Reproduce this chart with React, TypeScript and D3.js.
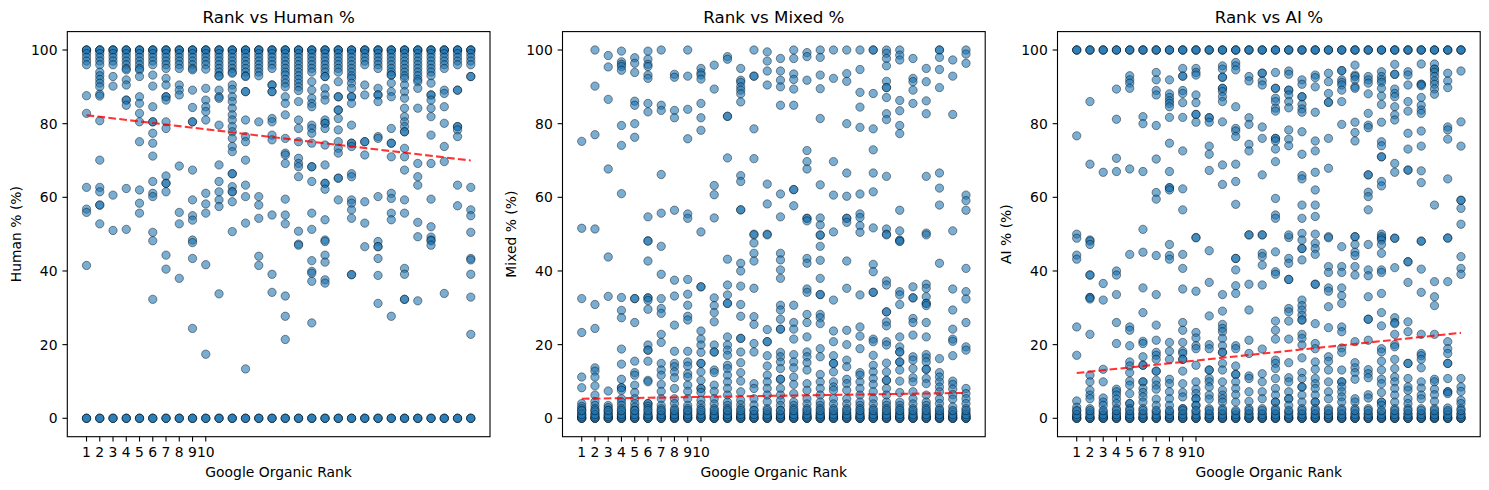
import * as d3 from "d3";

const ranks = [
  1, 2, 3, 4, 5, 6, 7, 8, 9, 10, 11, 12, 13, 14, 15, 16, 17, 18, 19, 20, 21,
  22, 23, 24, 25, 26, 27, 28, 29, 30,
];
const tickRanks = [1, 2, 3, 4, 5, 6, 7, 8, 9, 10];
const yTicks = [0, 20, 40, 60, 80, 100];

// values per rank (one inner array per rank)
const humanPct = [
  [100, 100, 100, 99, 98, 97, 96, 87.6, 82.8, 62.7, 56.8, 55.9, 41.5, 0, 0, 0],
  [100, 100, 100, 99, 98, 97, 96, 94, 93, 92, 91, 90, 88, 87.5, 80.8, 70.1, 62.7, 61.5, 57.9, 57.9, 52.8, 0, 0, 0],
  [100, 100, 100, 99, 98, 97, 96, 92.8, 90.2, 60.6, 51, 0, 0, 0],
  [100, 100, 100, 99, 98, 97, 96, 95, 94.6, 91.9, 90.5, 86.4, 86.4, 85, 62.4, 51.3, 0, 0, 0],
  [100, 100, 100, 99, 98, 97, 96, 95, 94.6, 92.8, 87.3, 85.5, 82.8, 80.5, 75.1, 62, 58.4, 55.7, 0, 0, 0],
  [100, 100, 100, 99, 98, 97, 96, 93.2, 90.2, 84.6, 80.5, 80.5, 77.4, 74.7, 71.2, 64.3, 61.1, 60.2, 50.5, 48.2, 32.3, 0, 0, 0],
  [100, 100, 100, 99, 98, 97, 96, 95, 92.3, 90.5, 87.3, 87.3, 86.4, 80.5, 78.7, 65.8, 63.8, 63.8, 61.5, 44.3, 40.5, 0, 0, 0],
  [100, 100, 100, 99, 98, 97, 96, 95, 90.5, 89.1, 87.8, 68.5, 55.9, 52.8, 38, 0, 0, 0],
  [100, 100, 100, 99, 98, 97, 96, 95, 94.6, 89.1, 84.4, 80.5, 80.5, 67.4, 59.3, 55, 53.8, 48.4, 47.7, 43.4, 24.4, 0, 0, 0],
  [100, 100, 100, 99, 98, 97, 96, 94.8, 89.6, 86.4, 84.6, 83.3, 81, 61.1, 58.2, 55.7, 41.7, 17.4, 0, 0, 0],
  [100, 100, 100, 99, 98, 97, 96, 95, 94, 93, 92.9, 89.1, 87.3, 86.9, 79.6, 68.8, 64.3, 61.5, 59.3, 57.5, 33.8, 0, 0, 0],
  [100, 100, 100, 99, 98, 97, 96, 95, 94, 93.7, 90.5, 89.3, 87.3, 86, 84.2, 82.4, 81, 79.2, 77.8, 76, 73.8, 72.4, 66.4, 66.4, 62.9, 61.5, 61.5, 58.8, 50.7, 0, 0, 0],
  [100, 100, 100, 99, 98, 97, 96, 95, 94, 93, 92.8, 88.7, 88.7, 81, 76.5, 75.1, 70.1, 63.3, 60.2, 53, 13.4, 0, 0, 0],
  [100, 100, 100, 99, 98, 97, 96, 95, 94, 93, 80.5, 60.2, 57.9, 54.3, 44, 41.5, 0, 0, 0],
  [100, 100, 100, 99, 98, 97, 96, 95, 90.5, 90.5, 88.7, 88.7, 81.4, 80.5, 76.9, 75.6, 55.2, 39.1, 34.2, 0, 0, 0],
  [100, 100, 100, 99, 98, 97, 96, 95, 94, 93.2, 92, 91, 90, 87.3, 85.5, 82.4, 76, 72, 71.5, 69.2, 59.5, 55.2, 52.8, 33.2, 27.7, 21.4, 0, 0, 0],
  [100, 100, 100, 99, 98, 97, 96, 95, 94, 93, 92, 91, 90, 89, 86, 81, 78.7, 75.1, 70.6, 69.2, 68.3, 65.6, 50.8, 47.3, 47, 0, 0, 0],
  [100, 100, 100, 99, 98, 97, 96, 95, 94, 91.4, 89.1, 86.9, 85.5, 84.6, 79.6, 78.7, 77.4, 74.7, 68.3, 68.3, 64.3, 55.7, 51.3, 42.8, 39.9, 39.4, 37.2, 25.9, 0, 0, 0],
  [100, 100, 100, 99, 98, 97, 96, 95, 94, 92.8, 92.8, 89.6, 87.8, 86.4, 81, 80.1, 80.1, 78.7, 74.2, 68.8, 63.8, 63.8, 62.2, 53.9, 48.4, 48, 44.3, 42.4, 37.6, 36.7, 0, 0, 0],
  [100, 100, 100, 99, 98, 97, 96, 95, 94, 91.4, 87.3, 87.3, 83.7, 83.7, 81.4, 78.3, 75.1, 73.3, 72, 65.2, 65.2, 59.3, 0, 0, 0],
  [100, 100, 100, 99, 98, 97, 96, 95, 94, 93, 92.3, 91, 89.6, 87.3, 87.3, 85.5, 79.6, 74.7, 74.7, 73.8, 66.4, 65.6, 59.3, 58.4, 56.6, 54.3, 39, 39, 0, 0, 0],
  [100, 100, 100, 99, 98, 97, 96, 90.5, 87.8, 75.1, 75.1, 71.5, 58.8, 53, 46.6, 0, 0, 0],
  [100, 100, 100, 99, 98, 97, 96, 95, 89.6, 87.8, 87.8, 86, 76.5, 76, 60.2, 48, 46.6, 46.6, 43.4, 38.8, 31.2, 0, 0, 0],
  [100, 100, 100, 99, 98, 97, 96, 95, 94, 93.2, 93.2, 91, 88.7, 87.3, 78.7, 74.7, 74.7, 71, 61.1, 59.7, 55.7, 53.9, 27.7, 0, 0, 0],
  [100, 100, 100, 99, 98, 97, 96, 95, 94, 93, 92.3, 90.5, 88.7, 86.9, 84.2, 81.9, 80.5, 79.2, 77.8, 77.8, 73.3, 71, 67.4, 59.3, 55.7, 40.7, 39.1, 32.3, 32.3, 0, 0, 0],
  [100, 100, 100, 99, 98, 97, 96, 95, 94, 93, 92, 91.4, 89.6, 84.2, 69.2, 65.6, 63.3, 53.2, 49.3, 31.9, 0, 0, 0],
  [100, 100, 100, 99, 98, 97, 96, 95, 94, 93, 91, 87.8, 87.8, 86.4, 84.2, 81.9, 76.9, 69.2, 59.5, 52, 49.2, 48.4, 48.2, 47, 0, 0, 0],
  [100, 100, 100, 99, 98, 97, 96, 95, 89.1, 88.2, 84.6, 80.1, 73.8, 69.7, 33.9, 0, 0, 0],
  [100, 100, 100, 99, 98, 97, 96, 89.1, 89.1, 79.2, 79.2, 78.3, 76.5, 63.3, 57.7, 0, 0, 0],
  [100, 100, 100, 99, 98, 97, 96, 92.8, 92.8, 62.7, 56.6, 55, 50.5, 43.4, 43, 39.1, 32.9, 22.8, 0, 0, 0],
];

const mixedPct = [
  [75.2, 51.6, 32.5, 23.3, 11.2, 8.3, 4, 3.2, 2.6, 2, 1.3, 0.7, 0, 0, 0, 0.4, 1, 2.1],
  [100, 90.2, 77, 51.4, 30.9, 24.4, 13.7, 12.8, 11.2, 8.8, 6.3, 4.5, 3.5, 2.6, 1.7, 1, 0, 0, 0, 0.4, 1, 2.1],
  [98.5, 95.4, 86.6, 67.7, 43.8, 33.1, 7.4, 3.5, 2.9, 2.2, 1.5, 0.8, 0, 0, 0, 0.4, 1, 2.1],
  [99.7, 96.8, 96.1, 95.5, 94.5, 79.5, 74.1, 61, 32.8, 29.3, 27.3, 18.8, 14.7, 10.6, 8.3, 8.3, 7.6, 5.3, 4.4, 3.5, 2.6, 1.7, 0.9, 0, 0, 0, 0.4, 1, 2.1],
  [97.9, 96.4, 93.9, 86.1, 85, 80, 76.3, 32.5, 32.5, 26, 15.5, 12.4, 11.7, 9, 7, 5.3, 4, 3, 2.2, 1.3, 0, 0, 0, 0.4, 1, 2.1],
  [99.7, 97.5, 96.1, 95.5, 93.2, 92.3, 85.5, 83.2, 54.7, 48.2, 48.1, 42.7, 32.7, 32.7, 32, 29.6, 19.9, 18.5, 18.5, 15.5, 10.3, 9.9, 4, 4, 3.3, 2.6, 1.5, 0.7, 0, 0, 0, 0.4, 1, 2.1],
  [100, 85, 83.6, 66.2, 55.7, 46.7, 39.1, 32.5, 29.8, 28.5, 22.8, 20.6, 14.9, 13.1, 11.7, 9.2, 7.3, 5.3, 3.5, 2.6, 1.7, 0.8, 0, 0, 0, 0.4, 1, 2.1],
  [93.4, 92.6, 83.6, 81.6, 56.5, 37.5, 33.2, 25.3, 18.2, 14.9, 14, 12.6, 11, 8.1, 5.3, 4, 2.6, 1.5, 0.7, 0, 0, 0, 0.4, 1, 2.1],
  [100, 92.9, 83.9, 75.9, 55.5, 54.3, 37.7, 33.7, 30.7, 27.7, 26.7, 18.2, 15.3, 14.2, 12.1, 11.2, 9, 7.3, 5.3, 3.5, 2.6, 1.7, 0.8, 0, 0, 0, 0.4, 1, 2.1],
  [95, 93.8, 93.2, 92.1, 85.5, 81.6, 78.2, 50.6, 35.7, 35.7, 23.7, 21.5, 19.9, 17.9, 14.9, 14.9, 12.6, 10.3, 8.1, 8.1, 7, 4.9, 3.7, 2.6, 1.5, 0.7, 0, 0, 0, 0.4, 1, 2.1],
  [95.9, 89.4, 63.2, 60.7, 54.4, 32.7, 30.6, 28.7, 26.2, 19.9, 18, 18, 13.1, 12.4, 9, 7.3, 5.3, 3.9, 2.6, 1.5, 0.7, 0, 0, 0, 0.4, 1, 2.1],
  [98.2, 97.5, 82, 82, 70.7, 43.2, 36.2, 33.5, 31.2, 31.2, 22.1, 19.9, 18.5, 17.1, 14.4, 13.5, 11.7, 9.9, 8.1, 6.3, 4.4, 3.5, 2.6, 1.7, 0.8, 0, 0, 0, 0.4, 1, 2.1],
  [95, 91.8, 91.2, 90, 89.1, 88.1, 85.9, 65.9, 64.3, 56.6, 56.6, 42.1, 40, 35.9, 30.9, 27.7, 21.7, 21.7, 18, 15.1, 12.4, 10.1, 7.2, 4.9, 3.7, 2.6, 1.5, 0.7, 0, 0, 0, 0.4, 1, 2.1],
  [100, 92.9, 92.9, 78.6, 70.5, 50, 49.8, 47.6, 44.8, 42.7, 35.3, 27.6, 25.5, 20.3, 18, 9.4, 8.1, 5.3, 3.6, 2.2, 1.1, 0, 0, 0, 0.4, 1, 2.1],
  [99.5, 97, 94.3, 90.5, 63.6, 58.2, 50, 49.8, 24.1, 20.8, 20.8, 17, 14.2, 11.7, 9.9, 8.1, 6.3, 4.5, 2.6, 1.5, 0.7, 0, 0, 0, 0.4, 1, 2.1],
  [97.7, 94.3, 91.8, 90, 85, 60.9, 54.7, 44.8, 43, 40.3, 38, 30.7, 29.4, 26.9, 24.2, 24.2, 17.9, 16.7, 15.3, 13.5, 10.6, 10.6, 8.1, 6.3, 4.8, 3.5, 2.2, 1, 0, 0, 0, 0.4, 1, 2.1],
  [100, 97.7, 93.5, 92, 89.4, 85, 62.1, 62.1, 57.7, 30.7, 26, 24.2, 21.5, 17.3, 15.3, 13.7, 11.2, 9.2, 6.7, 4.4, 3.5, 2.6, 1.5, 0.7, 0, 0, 0, 0.4, 1, 2.1],
  [99.3, 98.2, 91.8, 72.7, 69.7, 67.7, 54.3, 54.3, 53.6, 43.4, 42.1, 35.1, 34.2, 28.2, 26, 22.1, 18, 16.7, 15.1, 13.1, 9.4, 7.6, 5.3, 3.9, 2.6, 1.5, 0.7, 0, 0, 0, 0.4, 1, 2.1],
  [100, 98, 93.2, 89.5, 81.4, 63.4, 54.4, 52.5, 49.7, 49.8, 46.7, 42.9, 38, 33.6, 33.6, 28.2, 27.3, 25.7, 18.9, 16.7, 11.9, 9.9, 8.1, 6.3, 4.4, 3.5, 2.6, 1.5, 0.7, 0, 0, 0, 0.4, 1, 2.1],
  [100, 92.3, 69.7, 60.6, 50.6, 32.1, 23.7, 20.8, 17, 14.9, 14.9, 12.6, 9.9, 8.5, 7.6, 5.3, 3.9, 2.6, 1.5, 0.7, 0, 0, 0, 0.4, 1, 2.1],
  [100, 93.6, 91.5, 80, 66.6, 60.3, 54.3, 54.3, 53.2, 42.7, 35.3, 23.9, 20, 15.8, 14, 10.6, 9.4, 7.6, 5.3, 3.9, 2.6, 1.5, 0.7, 0, 0, 0, 0.4, 1, 2.1],
  [100, 94.7, 88.5, 84.5, 79, 60.9, 55.5, 54.5, 52.3, 50.5, 33.5, 24.8, 22.3, 18.9, 12.4, 11.7, 9.9, 8.1, 6.3, 4.4, 3.5, 2.6, 1.5, 0.7, 0, 0, 0, 0.4, 1, 2.1],
  [100, 100, 88.2, 78.6, 72.9, 66.6, 61.5, 51.7, 41.8, 39.8, 34.2, 34.2, 21.5, 20.8, 17.1, 14.4, 12.6, 10.8, 9.2, 7.2, 5.3, 3.9, 2.6, 1.5, 0.7, 0, 0, 0, 0.4, 1, 2.1],
  [100, 99.1, 97.7, 95.7, 91.5, 89.8, 89.8, 87.1, 82.7, 81.1, 65.7, 51.4, 50, 49.8, 37.3, 36.2, 28.9, 28.9, 26.2, 25.1, 20.8, 19.9, 15, 12.6, 10.3, 10.3, 8.1, 6.3, 4.4, 3.5, 2.6, 1.5, 0.7, 0, 0, 0, 0.4, 1, 2.1],
  [100, 98.6, 97.3, 86.3, 83.5, 79.5, 77.3, 56.5, 50.9, 48.2, 48.4, 48, 34.4, 33.5, 30.9, 22.1, 19.4, 18, 18, 15.3, 15.3, 13.1, 10.1, 7, 4.4, 3.5, 2.6, 1.5, 0.7, 0, 0, 0, 0.4, 1, 2.1],
  [97.7, 92.3, 91.4, 89.1, 85.5, 35.7, 32.7, 32.7, 27.1, 26, 22.6, 16.7, 15.8, 13.5, 11, 9.9, 7.2, 5.3, 3.9, 2.6, 1.5, 0.7, 0, 0, 0, 0.4, 1, 2.1],
  [95, 91.4, 86.2, 82.7, 65.7, 50.3, 49.8, 36.4, 35.3, 33, 31.2, 31.2, 30.6, 26, 22.1, 17.3, 16.4, 15.3, 13.3, 13.3, 10.8, 9.4, 6.3, 4.4, 3.5, 2.6, 1.5, 0.7, 0, 0, 0, 0.4, 1, 2.1],
  [100, 100, 98, 94.7, 89.8, 66.6, 62.5, 57.9, 42.1, 16.2, 12.4, 11.2, 9.9, 8.5, 7.2, 5.3, 4, 2.6, 1.5, 0.7, 0, 0, 0, 0.4, 1, 2.1],
  [97.3, 92.9, 82.5, 50.9, 35.1, 29.4, 24.2, 21.5, 20.9, 17, 10.1, 9.2, 7.9, 6.4, 5.2, 3.1, 1.7, 0.8, 0, 0, 0, 0.4, 1, 2.1],
  [100, 98.9, 96.4, 60.6, 59.1, 56.5, 40.7, 34.4, 32.4, 26, 19.4, 18.5, 8.1, 6.7, 5.3, 4, 2.6, 1.5, 0.7, 0, 0, 0, 0.4, 1, 2.1],
];

const aiPct = [
  [100, 100, 100, 76.7, 50, 48.9, 44.3, 43.2, 24.8, 17.1, 4.7, 3, 2, 1, 0, 0, 0, 0.4, 1, 2.1],
  [100, 100, 100, 86, 69, 48.4, 48.1, 47.2, 38.9, 38.9, 32.8, 32.8, 32.4, 22.8, 11.7, 9.9, 7.6, 6.3, 5.3, 2.6, 1.5, 0, 0, 0, 0.4, 1, 2.1],
  [100, 100, 100, 66.8, 36.6, 32.1, 13.3, 9.9, 5.5, 4.4, 3.5, 1.7, 0.8, 0, 0, 0, 0.4, 1, 2.1],
  [100, 100, 100, 89.4, 81.2, 70.6, 67, 40, 38.9, 33.6, 26, 20.3, 7.9, 7.2, 6.3, 5.2, 4, 2.6, 1.3, 0, 0, 0, 0.4, 1, 2.1],
  [100, 100, 100, 93, 91.9, 91, 89.6, 67.7, 44.5, 24.8, 23.9, 19.7, 15.3, 14.2, 12.4, 10.1, 9, 6.7, 4, 4, 2.6, 1.3, 0, 0, 0, 0.4, 1, 2.1],
  [100, 100, 100, 81.9, 80, 67, 51.3, 45.1, 35.4, 28.7, 20.9, 20.3, 16.7, 14.4, 14.4, 9.9, 9.9, 8.1, 7, 5.8, 4.4, 2.6, 1.3, 0, 0, 0, 0.4, 1, 2.1],
  [100, 100, 100, 93.9, 91.9, 89, 87.8, 79.5, 70.4, 61.3, 59.5, 44.2, 33.6, 25.3, 21.2, 17.9, 17.1, 16, 12.8, 12.8, 10.3, 9, 7.9, 5.2, 3.5, 1.7, 0, 0, 0, 0.4, 1, 2.1],
  [100, 100, 100, 91.9, 88.1, 87.1, 86.2, 85.5, 84.6, 81.7, 74.7, 67, 62.6, 62.6, 62, 47.2, 44.2, 43.2, 20.6, 18.2, 16, 10.6, 9.4, 7.2, 5.3, 3.5, 1.7, 0, 0, 0, 0.4, 1, 2.1],
  [100, 100, 100, 95, 92.9, 92.9, 89, 88.2, 85.7, 81.7, 72.6, 62.3, 56.6, 44.5, 40.7, 35.1, 26, 23.9, 20.6, 18.2, 17.6, 16, 16, 12.8, 9.4, 7, 5.8, 2.6, 2.6, 1.3, 0, 0, 0, 0.4, 1, 2.1],
  [100, 100, 100, 95, 93.9, 93.2, 87.8, 85.7, 82.5, 82.5, 80.4, 49.1, 49, 34.5, 23.3, 21.8, 19.7, 18.9, 14.4, 9.9, 7.9, 6.7, 5.3, 5.3, 3.5, 3.5, 1.7, 0, 0, 0, 0.4, 1, 2.1],
  [100, 100, 100, 81.6, 81.6, 80.4, 73.9, 71.7, 67.3, 45.5, 36.9, 27.8, 20, 18.9, 13.1, 13.1, 10.8, 9.9, 8.5, 6.3, 5.2, 2.6, 1.3, 0, 0, 0, 0.4, 1, 2.1],
  [100, 100, 100, 95.7, 94.8, 92.6, 92.6, 89.6, 89.6, 88.7, 87.3, 86, 80.5, 68.8, 63.5, 33.6, 29.1, 25.5, 24.4, 23.5, 21.7, 19.7, 17.9, 17.9, 14.9, 13.1, 9.9, 7.6, 6.3, 5.3, 4.4, 2.6, 1.3, 0, 0, 0, 0.4, 1, 2.1],
  [100, 100, 100, 96.6, 95.7, 94.6, 84.6, 78.7, 78, 76.5, 69, 64.3, 58.1, 43.4, 43.4, 40.3, 36, 33.9, 19.7, 18.9, 14.2, 11.9, 11.9, 9.9, 8.1, 6.4, 4.4, 1.7, 0, 0, 0, 0.4, 1, 2.1],
  [100, 100, 100, 92.8, 91.6, 81.6, 79.8, 74.4, 72.6, 49.8, 49.8, 36.4, 29.4, 21.2, 17.6, 11.5, 10.8, 7.2, 4.6, 2.6, 1.3, 0, 0, 0, 0.4, 1, 2.1],
  [100, 100, 100, 93.7, 93.7, 91.6, 90.5, 79.1, 76, 66.1, 49.8, 49.8, 44.8, 43.9, 41.6, 36.2, 18.8, 12.1, 9.9, 7.2, 5.3, 2.6, 1.3, 0, 0, 0, 0.4, 1, 2.1],
  [100, 100, 100, 93.9, 89.6, 89.6, 86.9, 86, 84.2, 83.4, 76, 76, 75.3, 73.1, 69.7, 59.7, 55.2, 54.3, 45.2, 39.8, 39.1, 26.4, 23.9, 21.5, 15.8, 14.9, 13.5, 10.8, 8.1, 6.3, 4.4, 4.4, 2.6, 1.3, 0, 0, 0, 0.4, 1, 2.1],
  [100, 100, 100, 94.3, 93.4, 89.1, 89.1, 87.8, 86, 84.3, 78.3, 75.8, 74, 49.1, 49.8, 43.4, 42.1, 37.7, 37.7, 29.8, 28.9, 26.4, 21.5, 15.1, 11, 9.9, 7.2, 5.3, 5.3, 3.5, 1.7, 0, 0, 0, 0.4, 1, 2.1],
  [100, 100, 100, 91.9, 90.7, 87.3, 87.3, 85.2, 84, 83.1, 77.8, 71.7, 65.9, 65, 57.9, 54.3, 50.2, 48.4, 46.1, 46.1, 43, 32.1, 30.6, 29.4, 28, 26.7, 26.7, 22.8, 21.7, 19.9, 16.4, 12.4, 10.8, 8.5, 8.5, 6.3, 4.4, 2.6, 1.3, 0, 0, 0, 0.4, 1, 2.1],
  [100, 100, 100, 93.2, 92.5, 90, 83.1, 75.3, 72.6, 66.8, 62, 57.9, 54.8, 50, 47.5, 46.1, 44.5, 36.4, 36.4, 25.7, 20.3, 18.9, 15.3, 13.3, 10.8, 9.4, 8.1, 6.3, 4.4, 4.4, 2.6, 1.3, 0, 0, 0, 0.4, 1, 2.1],
  [100, 100, 100, 93.7, 91.4, 88.2, 85.8, 85.8, 76, 67.9, 49.3, 49, 41.2, 39.6, 35.4, 34.5, 30.3, 24.6, 16.7, 15.5, 13.1, 9.9, 7.2, 5.3, 2.6, 1.3, 0, 0, 0, 0.4, 1, 2.1],
  [100, 100, 100, 94.4, 94.4, 91.9, 91.2, 90.5, 89.1, 86, 79.8, 46.6, 41.2, 39.6, 35.4, 33.3, 31.2, 24.8, 23.5, 19.1, 17.9, 13.1, 9.9, 9.9, 8.5, 7.2, 5.8, 4.4, 2.6, 1.3, 0, 0, 0, 0.4, 1, 2.1],
  [100, 100, 100, 95.9, 93.2, 92.8, 91.9, 90, 89.6, 80.4, 77.6, 75.3, 49.3, 49.3, 47.2, 45.1, 44.2, 41.2, 38.9, 20.8, 15.1, 13.7, 12.4, 10.6, 5.3, 4.4, 2.6, 1.3, 0, 0, 0, 0.4, 1, 2.1],
  [100, 100, 100, 92.8, 91.9, 91, 88.1, 82.8, 79.6, 78.9, 66.1, 66.1, 61.4, 60.2, 56.6, 47.2, 40.3, 38.7, 33, 26.9, 26.9, 21.2, 13.2, 12.1, 11, 6.4, 5.5, 2.6, 1.3, 0, 0, 0, 0.4, 1, 2.1],
  [100, 100, 100, 94.1, 92.8, 91.9, 91.2, 89.6, 87.5, 85.2, 80.4, 75.1, 74, 71, 71, 64.3, 63.1, 50, 48.9, 49.3, 48.4, 47.2, 44.8, 40.3, 39.6, 33.9, 28.7, 25.1, 18.9, 18, 15.5, 13.1, 10.6, 9.4, 7, 4.4, 4.4, 3.5, 1.7, 0, 0, 0, 0.4, 1, 2.1],
  [100, 100, 100, 96.1, 93.4, 93.4, 89.4, 88.2, 87.3, 84.6, 82.4, 81, 69.2, 66.8, 48.9, 48.9, 40.9, 27.3, 26, 25.7, 22.8, 20, 19.4, 16, 13.5, 11.2, 9.9, 8.1, 6.3, 4.4, 2.6, 1.3, 0, 0, 0, 0.4, 1, 2.1],
  [100, 100, 100, 94.1, 93.2, 90.5, 86, 83.4, 77.4, 73.1, 67.4, 67.4, 42.5, 42.5, 36.9, 26.2, 23.5, 14.9, 14.9, 10.8, 8.5, 7.6, 5.3, 4, 2.6, 1.3, 0, 0, 0, 0.4, 1, 2.1],
  [100, 100, 100, 96.2, 90.7, 90.7, 90.3, 87.1, 85, 83.7, 82.8, 78, 73.9, 67.2, 64, 48.1, 48.1, 40.5, 34.2, 22.8, 17.6, 17, 16, 13.7, 9.9, 8.2, 6.3, 5.3, 2.6, 1.3, 0, 0, 0, 0.4, 1, 2.1],
  [100, 100, 100, 96.2, 94.8, 94.8, 93.9, 92.8, 91.6, 90.7, 89.4, 88, 57.9, 37.1, 33, 30.6, 22.8, 10.6, 9.9, 7.9, 6.4, 4.6, 2.6, 1.3, 0, 0, 0, 0.4, 1, 2.1],
  [100, 100, 100, 93.7, 91.6, 89.8, 79.1, 78.3, 75.8, 65, 49, 48.9, 37.1, 20.8, 18.9, 17.6, 14.9, 14.9, 10.8, 7.2, 7.2, 6.7, 2.8, 1.7, 0, 0, 0, 0.4, 1, 2.1],
  [100, 100, 100, 94.3, 80.5, 73.9, 59.2, 59.2, 57, 52.7, 43.9, 40.7, 39.1, 10.8, 8.5, 7.3, 4.9, 4, 2.6, 1.3, 0, 0, 0, 0.4, 1, 2.1],
];

// dashed trend line end values, at rank 1 and rank 30
const trendRanks = [1, 30];
const humanTrend = [82.3, 70.0];
const mixedTrend = [5.3, 6.9];
const aiTrend = [12.3, 23.2];

const panels = [
  { title: "Rank vs Human %", ylabel: "Human % (%)", values: humanPct, trend: humanTrend, left: 67.3 },
  { title: "Rank vs Mixed %", ylabel: "Mixed % (%)", values: mixedPct, trend: mixedTrend, left: 562.5 },
  { title: "Rank vs AI %", ylabel: "AI % (%)", values: aiPct, trend: aiTrend, left: 1057.5 },
];

const W = 1489;
const H = 490;
const axW = 422.7;
const top = 31.6;
const bottom = 436.7;
const font = "DejaVu Sans, sans-serif";
const tickLen = 4.86;

const Panel = ({ p }: { p: any }) => {
  const x = d3.scaleLinear().domain([-0.45, 31.45]).range([p.left, p.left + axW]);
  const y = d3.scaleLinear().domain([-5, 105]).range([bottom, top]);

  const pts: { r: number; v: number }[] = [];
  p.values.forEach((col: number[], i: number) => {
    col.forEach((v) => pts.push({ r: ranks[i], v }));
  });

  const line = d3
    .line<number>()
    .x((_, i) => x(trendRanks[i]))
    .y((d) => y(d));

  return (
    <g>
      {pts.map((d, i) => (
        <circle
          key={i}
          cx={x(d.r)}
          cy={y(d.v)}
          r={4.17}
          fill="#1f77b4"
          fillOpacity={0.6}
          stroke="#000"
          strokeOpacity={0.6}
          strokeWidth={0.7}
        />
      ))}
      <path
        d={line(p.trend) || ""}
        fill="none"
        stroke="#ff0000"
        strokeOpacity={0.8}
        strokeWidth={2.08}
        strokeDasharray="7.7 3.3"
      />
      <rect
        x={p.left}
        y={top}
        width={axW}
        height={bottom - top}
        fill="none"
        stroke="#000"
        strokeWidth={1.1}
      />
      {yTicks.map((t) => (
        <g key={t}>
          <line x1={p.left - tickLen} x2={p.left} y1={y(t)} y2={y(t)} stroke="#000" strokeWidth={1.1} />
          <text
            x={p.left - tickLen - 4.9}
            y={y(t)}
            dy="0.36em"
            textAnchor="end"
            fontFamily={font}
            fontSize={13.9}
            fill="#000"
          >
            {t}
          </text>
        </g>
      ))}
      {tickRanks.map((t) => (
        <g key={t}>
          <line x1={x(t)} x2={x(t)} y1={bottom} y2={bottom + tickLen} stroke="#000" strokeWidth={1.1} />
          <text
            x={x(t)}
            y={456.9}
            textAnchor="middle"
            fontFamily={font}
            fontSize={13.9}
            fill="#000"
          >
            {t}
          </text>
        </g>
      ))}
      <text
        x={p.left + axW / 2}
        y={477}
        textAnchor="middle"
        fontFamily={font}
        fontSize={13.9}
        fill="#000"
      >
        Google Organic Rank
      </text>
      <text
        transform={`translate(${p.left - 46.5} ${(top + bottom) / 2}) rotate(-90)`}
        textAnchor="middle"
        fontFamily={font}
        fontSize={13.9}
        fill="#000"
      >
        {p.ylabel}
      </text>
      <text
        x={p.left + axW / 2}
        y={22.6}
        textAnchor="middle"
        fontFamily={font}
        fontSize={16.7}
        fill="#000"
      >
        {p.title}
      </text>
    </g>
  );
};

const App = () => {
  return (
    <div style={{ position: "absolute", left: 0, top: 0 }}>
      <svg width={W} height={H} style={{ display: "block", background: "#fff" }}>
        {panels.map((p, i) => (
          <Panel key={i} p={p} />
        ))}
      </svg>
    </div>
  );
};

export default App;
